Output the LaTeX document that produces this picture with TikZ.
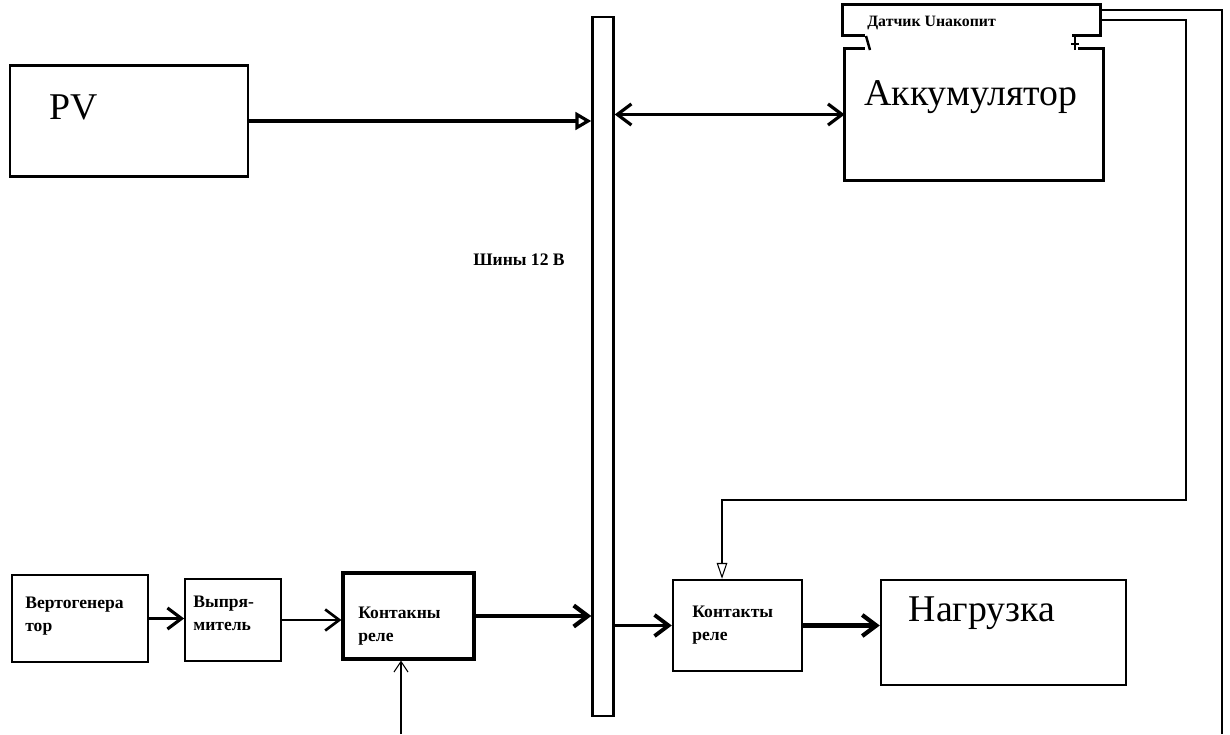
\documentclass[tikz,border=0pt]{standalone}
\usepackage{fontspec}
\setmainfont{Liberation Serif}
\usetikzlibrary{arrows.meta}

\begin{document}
\begin{tikzpicture}[x=0.02cm,y=-0.02cm,
  block/.style={draw,line width=1.4pt,inner sep=0pt},
  lbl/.style={font=\bfseries\fontsize{10}{13}\selectfont,align=left,anchor=west,inner sep=0pt},
  big/.style={font=\fontsize{21.5}{25}\selectfont,inner sep=0pt},
  arr/.style={-{Straight Barb[length=8pt,width=12pt]},line width=1.8pt},
  wire/.style={line width=0.6pt}]
  \useasboundingbox (0,0) rectangle (1230,734);
  \node[block,minimum width=4.76cm,minimum height=2.22cm] (pv)  at (129,121) {};
  \node[block,minimum width=0.42cm,minimum height=13.98cm] (bus) at (603,366.5) {};
  \node[inner sep=0pt,minimum width=5.14cm,minimum height=0.6cm] (dat) at (971.5,20) {};
  \node[inner sep=0pt,minimum width=5.16cm,minimum height=2.62cm] (akk) at (974,114.5) {};
  \node[block,line width=1pt,minimum width=2.72cm,minimum height=1.74cm] (vg)  at (80,618.5) {};
  \node[block,line width=1pt,minimum width=1.92cm,minimum height=1.64cm] (vyp) at (233,620) {};
  \node[block,line width=1.8pt,minimum width=2.62cm,minimum height=1.72cm] (kr1) at (408.5,616) {};
  \node[block,minimum width=2.58cm,minimum height=1.82cm] (kr2) at (737.5,625.5) {};
  \node[block,minimum width=4.9cm,minimum height=2.1cm] (load) at (1003.5,632.5) {};
  \node[big,anchor=west] (pvt) at (49,107) {PV};
  \node[big] (akkt) at (971,97) {Аккумулятор};
  \node[big] (loadt) at (982,613) {Нагрузка};
  \node[lbl,font=\bfseries\fontsize{9}{11}\selectfont] (datt) at (867,23) {Датчик Uнакопит};
  \node[lbl,anchor=center] (bust) at (519,260) {Шины 12 В};
  \node[lbl] (vgt)  at (25,616)  {Вертогенера\\тор};
  \node[lbl] (vypt) at (193,613) {Выпря-\\митель};
  \node[lbl] (kr1t) at (358,626) {Контакны\\реле};
  \node[lbl] (kr2t) at (692,625) {Контакты\\реле};
  \coordinate (wgen) at (401,734);
  \coordinate (fb) at (1186,500);
  \coordinate (out) at (1222,734);
  \draw[line width=1.4pt] ([xshift=0.44cm]dat.south west) -- (dat.south west) -- (dat.north west)
    -- (dat.north east) -- (dat.south east) -- ([xshift=-0.56cm]dat.south east);
  \draw[line width=1.4pt] ([xshift=0.4cm]akk.north west) -- (akk.north west) -- (akk.south west)
    -- (akk.south east) -- (akk.north east) -- ([xshift=-0.5cm]akk.north east);
  \draw[line width=1.4pt] (866,36) -- (870,50);
  \draw[line width=1.4pt] (1075,37) -- (1075,50) (1071,44) -- (1079,44);
  \draw[-{Triangle[open,length=9pt,width=10pt]},line width=1.8pt] (pv.east) -- (pv.east -| bus.west);
  \draw[{Straight Barb[length=8pt,width=12pt]}-{Straight Barb[length=8pt,width=12pt]},line width=1.8pt]
    (akk.west -| bus.east) -- (akk.west);
  \draw[arr] (vg.east) -- (vg.east -| vyp.west);
  \draw[arr,line width=1.5pt] (vyp.east) -- (vyp.east -| kr1.west);
  \draw[arr,line width=2.4pt] (kr1.east) -- (kr1.east -| bus.west);
  \draw[arr,line width=2.2pt] (kr2.west -| bus.east) -- (kr2.west);
  \draw[arr,line width=2.4pt] (kr2.east) -- (kr2.east -| load.west);
  \draw[wire,-{Straight Barb[length=6pt,width=8pt]}] (wgen) -- (wgen |- kr1.south);
  \draw[wire] ([yshift=0.2cm]dat.east) -- ([yshift=0.2cm]dat.east -| out) -- (out);
  \draw[wire,-{Triangle[open,length=9pt,width=6pt]}] (dat.east) -- (dat.east -| fb) -- (fb)
    -| ([xshift=-0.31cm]kr2.north);
\end{tikzpicture}
\end{document}
